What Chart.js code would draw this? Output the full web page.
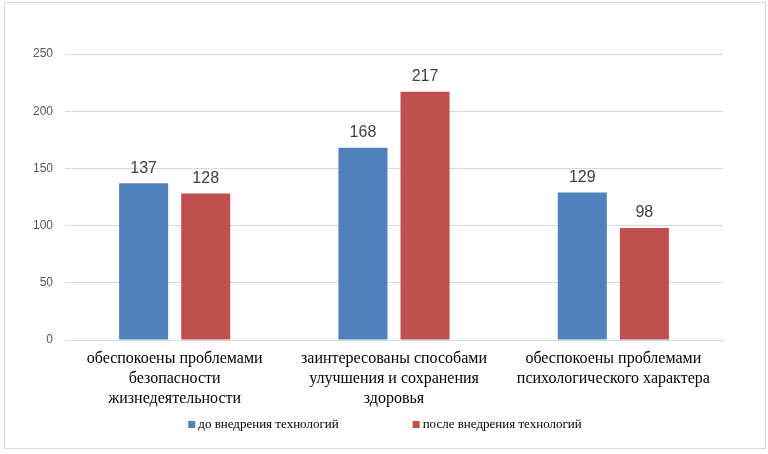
<!DOCTYPE html>
<html lang="ru">
<head>
    <meta charset="UTF-8">
    <title>Технологии</title>
    <script src="https://cdn.jsdelivr.net/npm/chart.js"></script>
    <style>
        body { margin: 0; background: #fff; }
        #box {
            position: absolute; left: 4px; top: 2px;
            width: 760px; height: 445px;
            border: 1px solid #d9d9d9;
        }
    </style>
</head>
<body>
    <div id="box">
        <canvas id="chart" width="760" height="445"></canvas>
    </div>

    <script>
        const categories = [
            ["обеспокоены проблемами", "безопасности", "жизнедеятельности"],
            ["заинтересованы способами", "улучшения и сохранения", "здоровья"],
            ["обеспокоены проблемами", "психологического характера"]
        ];
        const seriesNames = ["до внедрения технологий", "после внедрения технологий"];
        const beforeValues = [137, 168, 129];
        const afterValues = [128, 217, 98];
        const colors = ["#4f81bd", "#c0504d"];

        // подписи значений над столбцами
        const valueLabels = {
            id: "valueLabels",
            afterDatasetsDraw(chart) {
                const ctx = chart.ctx;
                ctx.save();
                ctx.font = "16px 'Liberation Sans'";
                ctx.fillStyle = "#404040";
                ctx.textAlign = "center";
                ctx.textBaseline = "bottom";
                chart.data.datasets.forEach((ds, i) => {
                    chart.getDatasetMeta(i).data.forEach((bar, j) => {
                        ctx.fillText(ds.data[j], bar.x, bar.y - 7);
                    });
                });
                ctx.restore();
            }
        };

        // легенда внизу, как в Excel
        const bottomLegend = {
            id: "bottomLegend",
            afterDraw(chart) {
                const ctx = chart.ctx;
                ctx.save();
                ctx.font = "13px 'Liberation Serif'";
                ctx.textBaseline = "middle";
                const gap = 74, box = 7;
                const widths = seriesNames.map(n => box + 3 + ctx.measureText(n).width);
                const total = widths[0] + gap + widths[1];
                let x = chart.width / 2 - total / 2;
                const y = 422;
                seriesNames.forEach((name, i) => {
                    ctx.fillStyle = colors[i];
                    ctx.fillRect(x, y - 4, box, box);
                    ctx.fillStyle = "#000";
                    ctx.fillText(name, x + box + 3, y);
                    x += widths[i] + gap;
                });
                ctx.restore();
            }
        };

        new Chart(document.getElementById("chart"), {
            type: "bar",
            data: {
                labels: categories,
                datasets: [
                    { label: seriesNames[0], data: beforeValues, backgroundColor: colors[0] },
                    { label: seriesNames[1], data: afterValues, backgroundColor: colors[1] }
                ]
            },
            options: {
                responsive: false,
                animation: false,
                categoryPercentage: 0.566,
                barPercentage: 0.79,
                layout: { padding: { left: 0, right: 42, top: 51, bottom: 0 } },
                plugins: {
                    legend: { display: false },
                    tooltip: { enabled: false }
                },
                scales: {
                    x: {
                        grid: { display: false, drawTicks: false },
                        border: { color: "#d9d9d9" },
                        ticks: {
                            color: "#000",
                            font: { family: "'Liberation Serif'", size: 16, lineHeight: 1.25 },
                            padding: 9,
                            maxRotation: 0,
                            autoSkip: false
                        },
                        afterFit(scale) { scale.height = 108; }
                    },
                    y: {
                        min: 0,
                        max: 250,
                        grid: { color: "#d9d9d9", drawTicks: false },
                        border: { display: false },
                        ticks: {
                            stepSize: 50,
                            color: "#595959",
                            font: { family: "'Liberation Sans'", size: 12 },
                            padding: 12
                        },
                        afterFit(scale) { scale.width = 60; }
                    }
                }
            },
            plugins: [valueLabels, bottomLegend]
        });
    </script>
</body>
</html>
